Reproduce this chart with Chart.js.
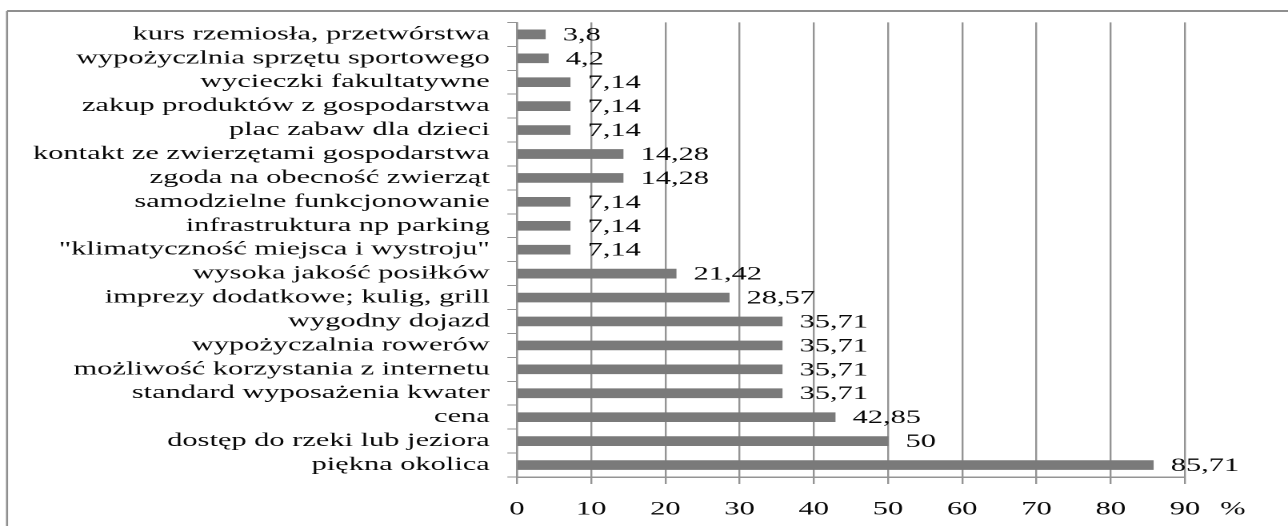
<!DOCTYPE html>
<html>
<head>
<meta charset="utf-8">
<script src="https://cdn.jsdelivr.net/npm/chart.js@4/dist/chart.umd.min.js"></script>
<style>
  html, body { margin: 0; padding: 0; background: #fff; overflow: hidden; }
  #wrap { width: 805px; height: 526px; transform: scaleX(1.6); transform-origin: 0 0; }
</style>
</head>
<body>
<div id="wrap"><canvas id="c"></canvas></div>
<script>
const categories = [
  'kurs rzemiosła, przetwórstwa',
  'wypożyczlnia sprzętu sportowego',
  'wycieczki fakultatywne',
  'zakup produktów z gospodarstwa',
  'plac zabaw dla dzieci',
  'kontakt ze zwierzętami gospodarstwa',
  'zgoda na obecność zwierząt',
  'samodzielne funkcjonowanie',
  'infrastruktura np parking',
  '"klimatyczność miejsca i wystroju"',
  'wysoka jakość posiłków',
  'imprezy dodatkowe; kulig, grill',
  'wygodny dojazd',
  'wypożyczalnia rowerów',
  'możliwość korzystania z internetu',
  'standard wyposażenia kwater',
  'cena',
  'dostęp do rzeki lub jeziora',
  'piękna okolica'
];
const values = [3.8, 4.2, 7.14, 7.14, 7.14, 14.28, 14.28, 7.14, 7.14, 7.14, 21.42, 28.57, 35.71, 35.71, 35.71, 35.71, 42.85, 50, 85.71];
const xTicks = [0, 10, 20, 30, 40, 50, 60, 70, 80, 90];
const unitLabel = '%';

const FONT = '"Liberation Serif", "Times New Roman", serif';
const TEXT = '#080808';
const GRID = '#949494';

Chart.defaults.font.family = FONT;
Chart.defaults.font.size = 19;
Chart.defaults.color = TEXT;

const fmt = v => String(v).replace('.', ',');

const decor = {
  id: 'decor',
  beforeDraw(chart) {
    const ctx = chart.ctx;
    ctx.save();
    ctx.strokeStyle = '#8f8f8f';
    ctx.lineWidth = 2;
    ctx.beginPath();
    ctx.moveTo(4.4, 11);
    ctx.lineTo(chart.width, 11);
    ctx.stroke();
    ctx.lineWidth = 1.3;
    ctx.beginPath();
    ctx.moveTo(4.4, 11);
    ctx.lineTo(4.4, chart.height);
    ctx.stroke();
    ctx.restore();
  },
  afterDatasetsDraw(chart) {
    const ctx = chart.ctx;
    const meta = chart.getDatasetMeta(0);
    ctx.save();
    ctx.font = '19px ' + FONT;
    ctx.fillStyle = TEXT;
    ctx.textAlign = 'left';
    ctx.textBaseline = 'middle';
    meta.data.forEach((bar, i) => {
      ctx.fillText(fmt(chart.data.datasets[0].data[i]), bar.x + 11, bar.y + 1);
    });
    ctx.restore();
  },
  afterDraw(chart) {
    const xs = chart.scales.x;
    const ctx = chart.ctx;
    ctx.save();
    ctx.font = '19px ' + FONT;
    ctx.fillStyle = TEXT;
    ctx.textAlign = 'center';
    ctx.textBaseline = 'middle';
    const last = xTicks[xTicks.length - 1];
    ctx.fillText(unitLabel, xs.getPixelForValue(last) + 30, xs.top + 7 + 14 + 19 * 1.2 / 2);
    ctx.restore();
  }
};

new Chart(document.getElementById('c'), {
  type: 'bar',
  data: {
    labels: categories,
    datasets: [{
      data: values,
      backgroundColor: '#7a7a7a',
      borderWidth: 0,
      barThickness: 9
    }]
  },
  options: {
    indexAxis: 'y',
    responsive: true,
    maintainAspectRatio: false,
    animation: false,
    devicePixelRatio: 2,
    layout: { padding: { top: 14, right: 64.4, bottom: 0, left: 0 } },
    plugins: { legend: { display: false }, tooltip: { enabled: false }, title: { display: false } },
    scales: {
      x: {
        type: 'linear',
        min: 0,
        max: 90,
        afterBuildTicks: s => { s.ticks = xTicks.map(v => ({ value: v })); },
        afterFit: s => { s.height = 49; },
        ticks: { padding: 14, color: TEXT, font: { size: 19 } },
        grid: { color: GRID, lineWidth: 1.2, tickLength: 7, drawTicks: true },
        border: { display: true, color: GRID, width: 1.5 }
      },
      y: {
        afterFit: s => { s.width = 323.1; },
        ticks: { padding: 11, color: TEXT, font: { size: 19 }, autoSkip: false },
        grid: { display: true, drawOnChartArea: false, drawTicks: true, tickLength: 6, color: GRID, lineWidth: 1, offset: true },
        border: { display: true, color: GRID, width: 1.2 }
      }
    }
  },
  plugins: [decor]
});
</script>
</body>
</html>
